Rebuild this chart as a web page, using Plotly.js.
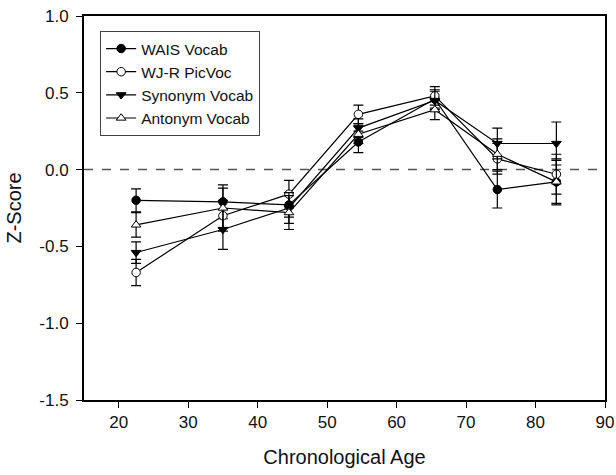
<!DOCTYPE html>
<html><head><meta charset="utf-8">
<script src="https://cdn.plot.ly/plotly-3.0.1.min.js"></script>
<style>html,body{margin:0;padding:0;background:#fff}</style>
</head><body>
<div id="chart" style="width:616px;height:475px"></div>
<script>
const ages = [22.5, 35, 44.5, 54.5, 65.5, 74.5, 83];
const seriesNames = ["WAIS Vocab", "WJ-R PicVoc", "Synonym Vocab", "Antonym Vocab"];
const waisVals = [-0.20, -0.21, -0.23, 0.18, 0.46, -0.13, -0.08];
const waisErr  = [0.075, 0.11, 0.08, 0.07, 0.06, 0.12, 0.14];
const wjrVals  = [-0.67, -0.30, -0.16, 0.36, 0.48, 0.07, -0.03];
const wjrErr   = [0.085, 0.10, 0.09, 0.06, 0.06, 0.10, 0.13];
const synVals  = [-0.54, -0.39, -0.25, 0.27, 0.45, 0.17, 0.17];
const synErr   = [0.07, 0.13, 0.10, 0.06, 0.06, 0.10, 0.14];
const antVals  = [-0.36, -0.25, -0.28, 0.23, 0.39, 0.10, -0.08];
const antErr   = [0.08, 0.13, 0.11, 0.06, 0.065, 0.10, 0.15];
const xTickVals = [20, 30, 40, 50, 60, 70, 80, 90];
const yTickVals = [-1.5, -1.0, -0.5, 0.0, 0.5, 1.0];
const yTickText = ["-1.5", "-1.0", "-0.5", "0.0", "0.5", "1.0"];

const vals = [waisVals, wjrVals, synVals, antVals];
const errs = [waisErr, wjrErr, synErr, antErr];
const symbols = ["circle", "circle", "triangle-down", "triangle-up"];
const fills = ["black", "white", "black", "white"];

const traces = vals.map((v, i) => ({
  x: ages, y: v, name: seriesNames[i], type: "scatter", mode: "lines+markers",
  line: {color: "black", width: 1.2},
  marker: {symbol: symbols[i], size: 8.5, color: fills[i], line: {color: "black", width: 1}},
  error_y: {type: "data", array: errs[i], visible: true, color: "black", thickness: 1.2, width: 5}
}));

const layout = {
  width: 616, height: 475,
  margin: {l: 84, r: 11, t: 16, b: 75},
  paper_bgcolor: "white", plot_bgcolor: "white",
  font: {family: "Liberation Sans, Arial, sans-serif", color: "#111"},
  showlegend: true,
  legend: {x: 0.031, y: 0.961, xanchor: "left", yanchor: "top", bordercolor: "#444", borderwidth: 1,
           font: {size: 15.5}, tracegroupgap: 0, itemwidth: 30, bgcolor: "white"},
  xaxis: {range: [15, 90], tickvals: xTickVals, ticks: "outside", ticklen: 6,
          ticklabelstandoff: 0,
          tickcolor: "black", showline: true, linecolor: "black", linewidth: 2, mirror: true,
          showgrid: false, zeroline: false, tickfont: {size: 17},
          title: {text: "Chronological Age", font: {size: 20}, standoff: 19}},
  yaxis: {range: [-1.5, 1.0], tickvals: yTickVals, ticktext: yTickText, ticks: "outside", ticklen: 6,
          ticklabelstandoff: 4,
          tickcolor: "black", showline: true, linecolor: "black", linewidth: 2, mirror: true,
          showgrid: false, zeroline: false, tickfont: {size: 17},
          title: {text: "Z-Score", font: {size: 20}, standoff: 12}},
  shapes: [{type: "line", xref: "paper", x0: 0, x1: 1, yref: "y", y0: 0, y1: 0,
            line: {color: "#555", width: 1.5, dash: "dash"}, layer: "below"}]
};
Plotly.newPlot("chart", traces, layout, {displayModeBar: false, staticPlot: true});
</script>
</body></html>
